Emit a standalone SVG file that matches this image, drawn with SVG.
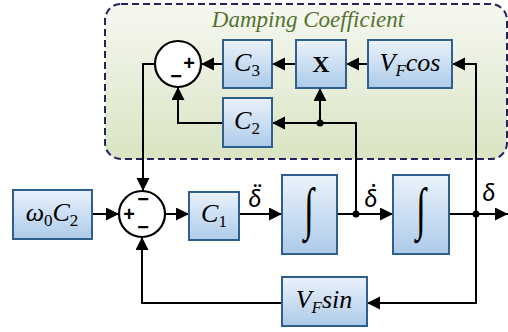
<svg xmlns="http://www.w3.org/2000/svg" width="508" height="332" viewBox="0 0 508 332">
<defs>
<linearGradient id="bg" x1="0" y1="0" x2="0" y2="1"><stop offset="0" stop-color="#f6f8f1"/><stop offset="1" stop-color="#d9e4c3"/></linearGradient>
<linearGradient id="bx" x1="0" y1="0" x2="0" y2="1"><stop offset="0" stop-color="#eaf2fb"/><stop offset="1" stop-color="#adcbe9"/></linearGradient>
<marker id="ar" markerUnits="userSpaceOnUse" markerWidth="14" markerHeight="14" refX="13" refY="6.5" orient="auto"><path d="M0,0 L13,6.5 L0,13 z" fill="#000"/></marker>
<style>
.box{fill:url(#bx);stroke:#2e5f8e;stroke-width:2}
.m{font-family:"Liberation Serif",serif;font-style:italic;font-size:26px;fill:#000}
.s{font-size:17px;font-style:normal}
.si{font-size:17px}
.sum{fill:#fff;stroke:#000;stroke-width:2.2}
.sg{font-family:"Liberation Sans",sans-serif;font-weight:bold;font-size:20px;fill:#000}
.c{fill:none;stroke:#000;stroke-width:2}
.a{marker-end:url(#ar)}
.dl{font-family:Lato,"Open Sans",sans-serif;font-style:italic;font-size:25px;fill:#000}
.int{font-family:"Liberation Serif",serif;font-style:italic;font-size:36px;fill:#000}
</style>
</defs>
<g id="damping">
<rect x="105" y="4" width="402" height="155" rx="16" fill="url(#bg)" stroke="#23235e" stroke-width="2" stroke-dasharray="7,4"/>
<text x="308" y="27" text-anchor="middle" font-family="Liberation Serif,serif" font-style="italic" font-size="23" fill="#557230">Damping Coefficient</text>
</g>
<g id="connectors">
<path class="c a" d="M92,214 H119"/>
<path class="c a" d="M165,214 H189"/>
<path class="c a" d="M239,214 H282"/>
<path class="c a" d="M337,214 H393"/>
<path class="c a" d="M449,214 H508"/>
<path class="c a" d="M476,214 V303 H367"/>
<path class="c a" d="M282,303 H142 V237"/>
<path class="c a" d="M476,214 V64 H452"/>
<path class="c a" d="M368,64 H346"/>
<path class="c a" d="M296,64 H272"/>
<path class="c a" d="M223,64 H201"/>
<path class="c a" d="M356,214 V123 H272"/>
<path class="c a" d="M320,123 V88"/>
<path class="c a" d="M223,123 H178 V87"/>
<path class="c a" d="M155,64 H143 V191"/>
<circle cx="320" cy="123" r="3.5"/>
<circle cx="356" cy="214" r="3.5"/>
<circle cx="476" cy="214" r="3.5"/>
<text class="dl" x="255" y="207" text-anchor="middle">δ̈</text>
<text class="dl" x="371" y="207" text-anchor="middle">δ̇</text>
<text class="dl" x="489" y="201" text-anchor="middle">δ</text>
</g>
<g id="sum1">
<circle class="sum" cx="178" cy="64" r="23"/>
<text class="sg" x="189" y="70" text-anchor="middle">+</text>
<text class="sg" x="176" y="83" text-anchor="middle">−</text>
</g>
<g id="sum2">
<circle class="sum" cx="142" cy="214" r="23"/>
<text class="sg" x="143" y="206" text-anchor="middle">−</text>
<text class="sg" x="129" y="221" text-anchor="middle">+</text>
<text class="sg" x="143" y="234" text-anchor="middle">−</text>
</g>
<g id="w0c2">
<rect class="box" x="13" y="190" width="79" height="49"/>
<text class="m" x="52" y="221" text-anchor="middle">ω<tspan class="s" dy="5">0</tspan><tspan dy="-5">C</tspan><tspan class="s" dy="5">2</tspan></text>
</g>
<g id="c1">
<rect class="box" x="189" y="192" width="50" height="48"/>
<text class="m" x="214" y="222" text-anchor="middle">C<tspan class="s" dy="5">1</tspan></text>
</g>
<g id="int1">
<rect class="box" x="282" y="175" width="55" height="79"/>
<text class="int" transform="translate(309,228) scale(1,1.6)" text-anchor="middle">∫</text>
</g>
<g id="int2">
<rect class="box" x="393" y="175" width="56" height="79"/>
<text class="int" transform="translate(421,228) scale(1,1.6)" text-anchor="middle">∫</text>
</g>
<g id="vfsin">
<rect class="box" x="282" y="277" width="85" height="49"/>
<text class="m" x="324" y="308" text-anchor="middle">V<tspan class="si" dy="5">F</tspan><tspan dy="-5">sin</tspan></text>
</g>
<g id="c3">
<rect class="box" x="223" y="40" width="49" height="48"/>
<text class="m" x="247" y="71" text-anchor="middle">C<tspan class="s" dy="5">3</tspan></text>
</g>
<g id="mult">
<rect class="box" x="296" y="40" width="50" height="48"/>
<text x="321" y="72" text-anchor="middle" font-family="Liberation Serif,serif" font-weight="bold" font-size="24">X</text>
</g>
<g id="vfcos">
<rect class="box" x="368" y="40" width="84" height="48"/>
<text class="m" x="410" y="71" text-anchor="middle">V<tspan class="si" dy="5">F</tspan><tspan dy="-5">cos</tspan></text>
</g>
<g id="c2">
<rect class="box" x="223" y="98" width="49" height="49"/>
<text class="m" x="247" y="129" text-anchor="middle">C<tspan class="s" dy="5">2</tspan></text>
</g>
</svg>
